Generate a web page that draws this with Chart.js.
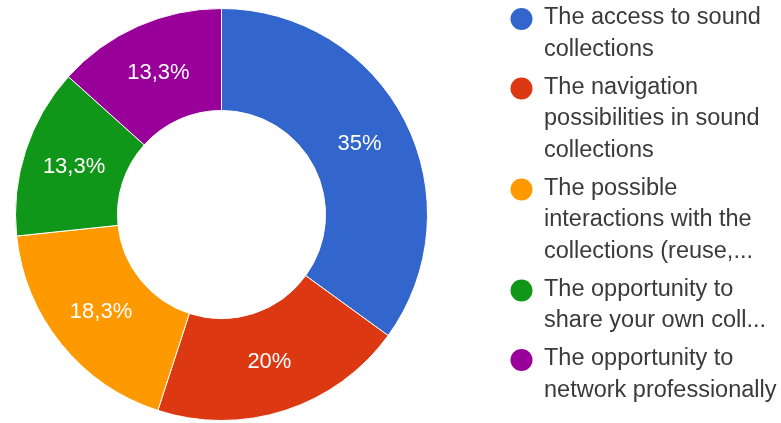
<!DOCTYPE html>
<html>
<head>
<meta charset="utf-8">
<script src="https://cdn.jsdelivr.net/npm/chart.js@4"></script>
<style>
  body { margin: 0; background: #fff; }
  #wrap { width: 781px; height: 423px; }
</style>
</head>
<body>
<div id="wrap"><canvas id="chart" width="781" height="423"></canvas></div>
<script>
// DATA
const labels = [
  ["The access to sound", "collections"],
  ["The navigation", "possibilities in sound", "collections"],
  ["The possible", "interactions with the", "collections (reuse,..."],
  ["The opportunity to", "share your own coll..."],
  ["The opportunity to", "network professionally"]
];
const counts = [21, 12, 11, 8, 8];
const colors = ["#3366CC", "#DC3912", "#FF9900", "#109618", "#990099"];

const total = counts.reduce((a, b) => a + b, 0);
const pctText = v => {
  const p = Math.round(v / total * 1000) / 10;
  return String(p).replace(".", ",") + "%";
};

// slice labels, white, in the middle of the ring
const sliceLabels = {
  id: "sliceLabels",
  afterDatasetsDraw(chart) {
    const ctx = chart.ctx;
    const meta = chart.getDatasetMeta(0);
    ctx.save();
    ctx.font = "22px 'Liberation Sans', Arial, sans-serif";
    ctx.fillStyle = "#fff";
    ctx.textAlign = "center";
    ctx.textBaseline = "middle";
    meta.data.forEach((arc, i) => {
      const pos = arc.tooltipPosition();
      ctx.fillText(pctText(counts[i]), pos.x, pos.y);
    });
    ctx.restore();
  }
};

// legend on the right, wrapped lines
const sideLegend = {
  id: "sideLegend",
  afterDraw(chart) {
    const ctx = chart.ctx;
    ctx.save();
    ctx.font = "23.5px 'Liberation Sans', Arial, sans-serif";
    ctx.textBaseline = "middle";
    ctx.textAlign = "left";
    let y = 18;
    labels.forEach((lines, i) => {
      ctx.fillStyle = colors[i];
      ctx.beginPath();
      ctx.arc(521.5, y + 1, 11, 0, Math.PI * 2);
      ctx.fill();
      ctx.fillStyle = "#3a3a3a";
      lines.forEach((line, j) => {
        ctx.fillText(line, 544, y);
        if (j < lines.length - 1) y += 31.5;
      });
      y += 38;
    });
    ctx.restore();
  }
};

new Chart(document.getElementById("chart"), {
  type: "doughnut",
  data: {
    labels: labels.map(l => l.join(" ")),
    datasets: [{
      data: counts,
      backgroundColor: colors,
      borderColor: "#fff",
      borderWidth: 1,
      hoverOffset: 0
    }]
  },
  options: {
    responsive: false,
    animation: false,
    cutout: "50.5%",
    layout: { padding: { left: 14.5, right: 352.5, top: 8, bottom: 2 } },
    plugins: {
      legend: { display: false },
      tooltip: { enabled: false }
    }
  },
  plugins: [sliceLabels, sideLegend]
});
</script>
</body>
</html>
